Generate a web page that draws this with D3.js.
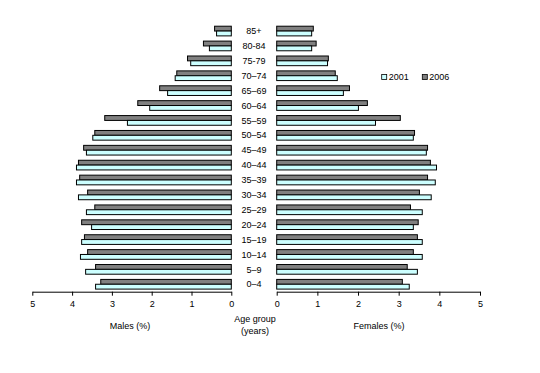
<!DOCTYPE html>
<html><head><meta charset="utf-8">
<script src="https://cdn.jsdelivr.net/npm/d3@7"></script>
<style>body{margin:0;background:#fff}text{font-family:"Liberation Sans",Arial,sans-serif;font-size:9px;fill:#000}</style>
</head><body><svg id="c" width="540" height="373"></svg>
<script>
const ageGroups = ["85+","80-84","75-79","70–74","65–69","60–64","55–59","50–54","45–49","40–44","35–39","30–34","25–29","20–24","15–19","10–14","5–9","0–4"];
const males2001 = [0.37,0.55,1.02,1.41,1.60,2.05,2.61,3.48,3.64,3.89,3.89,3.84,3.64,3.51,3.76,3.79,3.66,3.41];
const males2006 = [0.42,0.70,1.10,1.37,1.80,2.35,3.18,3.43,3.71,3.84,3.81,3.61,3.43,3.76,3.69,3.61,3.41,3.28];
const females2001 = [0.86,0.86,1.25,1.49,1.64,2.01,2.43,3.36,3.68,3.93,3.90,3.80,3.58,3.36,3.58,3.58,3.46,3.26];
const females2006 = [0.90,0.97,1.27,1.44,1.79,2.23,3.04,3.39,3.71,3.78,3.71,3.51,3.29,3.48,3.46,3.36,3.21,3.09];
const tickValues = [0,1,2,3,4,5];
const seriesNames = ["2001","2006"];
const colors = {"2001":"#ccffff","2006":"#808080"};

const svg = d3.select("#c");
const y = d3.scaleBand().domain(ageGroups).range([23.6,291.7]).paddingInner(0.35).paddingOuter(0.175);
const sub = d3.scaleBand().domain(["2006","2001"]).range([0,y.bandwidth()]);
const xL = d3.scaleLinear().domain([0,5]).range([231.3,32.3]);
const xR = d3.scaleLinear().domain([0,5]).range([276.7,480]);

function draw(scale, vals, key) {
  svg.append("g").selectAll("rect").data(vals).join("rect")
    .attr("x", d => Math.min(scale(0), scale(d)))
    .attr("width", d => Math.abs(scale(d) - scale(0)))
    .attr("y", (d,i) => y(ageGroups[i]) + sub(key))
    .attr("height", sub.bandwidth())
    .attr("fill", colors[key]).attr("stroke", "#000").attr("stroke-width", 1);
}
draw(xL, males2006, "2006");
draw(xL, males2001, "2001");
draw(xR, females2006, "2006");
draw(xR, females2001, "2001");

// age labels
svg.append("g").selectAll("text").data(ageGroups).join("text")
  .attr("x", 254).attr("y", d => y(d) + y.bandwidth()/2).attr("dy","0.35em")
  .attr("text-anchor","middle").text(d => d);

// axes
const axisY = 291.7;
function axis(scale) {
  const g = svg.append("g").attr("transform", `translate(0,${axisY})`)
    .call(d3.axisBottom(scale).tickValues(tickValues).tickFormat(d3.format("d")).tickSize(4).tickPadding(5).tickSizeOuter(0));
  g.select(".domain").attr("stroke","#000");
  g.selectAll(".tick line").attr("stroke","#000");
  g.selectAll(".tick text").style("font-family",'"Liberation Sans",Arial,sans-serif').style("font-size","9px");
}
axis(xL); axis(xR);

svg.append("text").attr("x",130).attr("y",329).attr("text-anchor","middle").text("Males (%)");
svg.append("text").attr("x",379).attr("y",329).attr("text-anchor","middle").text("Females (%)");
svg.append("text").attr("x",255).attr("y",322).attr("text-anchor","middle").text("Age group");
svg.append("text").attr("x",255).attr("y",334).attr("text-anchor","middle").text("(years)");

// legend
const leg = svg.append("g");
const legX = [381.7, 422.3];
seriesNames.forEach((s,i) => {
  leg.append("rect").attr("x",legX[i]).attr("y",74.5).attr("width",5).attr("height",5)
    .attr("fill",colors[s]).attr("stroke","#000").attr("stroke-width",0.8);
  leg.append("text").attr("x",legX[i]+7).attr("y",77).attr("dy","0.35em").text(s);
});
</script></body></html>
